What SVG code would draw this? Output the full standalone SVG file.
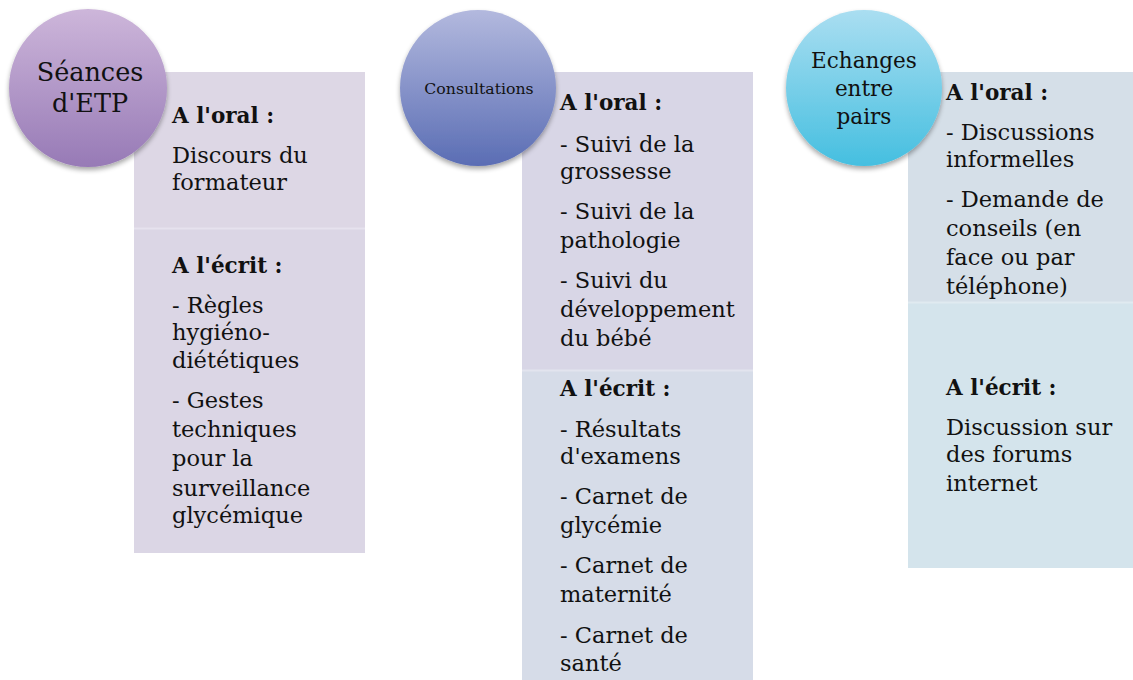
<svg xmlns="http://www.w3.org/2000/svg" width="1133" height="680" viewBox="0 0 1133 680">
<defs>
<linearGradient id="gP" x1="0" y1="0" x2="0" y2="1"><stop offset="0" stop-color="#cdb6da"/><stop offset="1" stop-color="#977ab6"/></linearGradient>
<linearGradient id="gB" x1="0" y1="0" x2="0" y2="1"><stop offset="0" stop-color="#b3b9de"/><stop offset="1" stop-color="#5a6db4"/></linearGradient>
<linearGradient id="gC" x1="0" y1="0" x2="0" y2="1"><stop offset="0" stop-color="#aadef1"/><stop offset="1" stop-color="#45bfe0"/></linearGradient>
<filter id="sh" x="-20%" y="-20%" width="140%" height="150%"><feGaussianBlur in="SourceAlpha" stdDeviation="2.5"/><feOffset dy="3"/><feComponentTransfer><feFuncA type="linear" slope="0.35"/></feComponentTransfer><feMerge><feMergeNode/><feMergeNode in="SourceGraphic"/></feMerge></filter>
</defs>
<style>
text{font-family:"DejaVu Serif","Liberation Serif",serif;fill:#111}
.b{font-size:22.5px}
.h{font-size:21.5px;font-weight:bold}
.c{text-anchor:middle}
</style>
<rect width="1133" height="680" fill="#fff"/>
<g id="col1">
<rect x="134" y="72" width="231" height="156" fill="#ddd7e5"/>
<rect x="134" y="229" width="231" height="324" fill="#dbd6e5"/>
<line x1="134" y1="228.5" x2="365" y2="228.5" stroke="#e6e2ee" stroke-width="2"/>
<text class="h" x="172" y="123">A l'oral :</text>
<text class="b" x="172" y="163">Discours du</text>
<text class="b" x="172" y="190">formateur</text>
<text class="h" x="172" y="273">A l'écrit :</text>
<text class="b" x="172" y="313">- Règles</text>
<text class="b" x="172" y="340">hygiéno-</text>
<text class="b" x="172" y="368">diététiques</text>
<text class="b" x="172" y="408">- Gestes</text>
<text class="b" x="172" y="437">techniques</text>
<text class="b" x="172" y="466">pour la</text>
<text class="b" x="172" y="496">surveillance</text>
<text class="b" x="172" y="523">glycémique</text>
</g>
<g id="node1">
<circle cx="88" cy="88" r="79" fill="url(#gP)" filter="url(#sh)"/>
<text class="c" x="90" y="81" font-size="25.5">Séances</text>
<text class="c" x="90" y="112" font-size="25.5">d'ETP</text>
</g>
<g id="col2">
<rect x="522" y="72" width="231" height="298" fill="#d8d6e6"/>
<rect x="522" y="371" width="231" height="309" fill="#d6dce8"/>
<line x1="522" y1="370.5" x2="753" y2="370.5" stroke="#e2e4ee" stroke-width="2"/>
<text class="h" x="560" y="110">A l'oral :</text>
<text class="b" x="560" y="152">- Suivi de la</text>
<text class="b" x="560" y="179">grossesse</text>
<text class="b" x="560" y="219">- Suivi de la</text>
<text class="b" x="560" y="248">pathologie</text>
<text class="b" x="560" y="288">- Suivi du</text>
<text class="b" x="560" y="317">développement</text>
<text class="b" x="560" y="346">du bébé</text>
<text class="h" x="560" y="396">A l'écrit :</text>
<text class="b" x="560" y="437">- Résultats</text>
<text class="b" x="560" y="464">d'examens</text>
<text class="b" x="560" y="504">- Carnet de</text>
<text class="b" x="560" y="533">glycémie</text>
<text class="b" x="560" y="573">- Carnet de</text>
<text class="b" x="560" y="602">maternité</text>
<text class="b" x="560" y="643">- Carnet de</text>
<text class="b" x="560" y="671">santé</text>
</g>
<g id="node2">
<circle cx="478" cy="88" r="78" fill="url(#gB)" filter="url(#sh)"/>
<text class="c" x="479" y="94" font-size="15.7">Consultations</text>
</g>
<g id="col3">
<rect x="908" y="72" width="225" height="230" fill="#d5dfe8"/>
<rect x="908" y="303" width="225" height="265" fill="#d4e4ec"/>
<line x1="908" y1="302.5" x2="1133" y2="302.5" stroke="#e0eaf0" stroke-width="2"/>
<text class="h" x="946" y="100">A l'oral :</text>
<text class="b" x="946" y="140">- Discussions</text>
<text class="b" x="946" y="167">informelles</text>
<text class="b" x="946" y="207">- Demande de</text>
<text class="b" x="946" y="236">conseils (en</text>
<text class="b" x="946" y="265">face ou par</text>
<text class="b" x="946" y="294">téléphone)</text>
<text class="h" x="946" y="395">A l'écrit :</text>
<text class="b" x="946" y="435">Discussion sur</text>
<text class="b" x="946" y="462">des forums</text>
<text class="b" x="946" y="491">internet</text>
</g>
<g id="node3">
<circle cx="864" cy="88" r="78" fill="url(#gC)" filter="url(#sh)"/>
<text class="c" x="864" y="68" font-size="21.5">Echanges</text>
<text class="c" x="864" y="96" font-size="21.5">entre</text>
<text class="c" x="864" y="124" font-size="21.5">pairs</text>
</g>
<g id="connectors"/>
</svg>
